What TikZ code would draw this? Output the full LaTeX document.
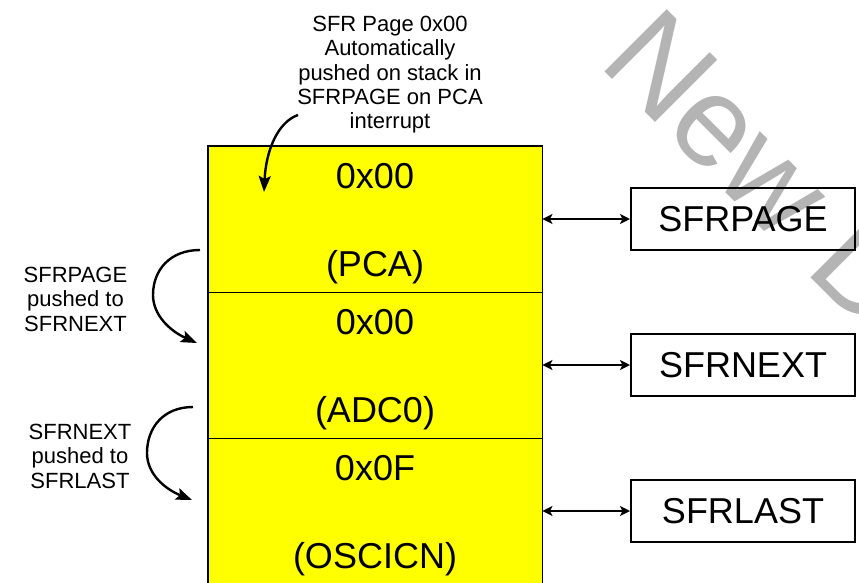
\documentclass[tikz,border=0pt]{standalone}
\usepackage{fontspec}
\setmainfont{Liberation Sans}
\usetikzlibrary{arrows.meta}
\definecolor{cellyellow}{RGB}{255,255,0}
\definecolor{wmgray}{RGB}{180,180,180}
\begin{document}
\begin{tikzpicture}[x=1pt,y=-1pt,
  cell/.style={draw=black,line width=0.9pt,fill=cellyellow,minimum width=334pt,minimum height=146pt,inner sep=0pt},
  big/.style={font=\fontsize{36}{40}\selectfont,inner sep=0pt,anchor=base},
  small/.style={font=\fontsize{22}{24.3}\selectfont,align=center,inner sep=0pt,anchor=north},
  regbox/.style={draw=black,line width=2pt,minimum width=224pt,minimum height=62pt,inner sep=0pt,font=\fontsize{36}{40}\selectfont},
  link/.style={line width=1.8pt,{Stealth[length=10pt,width=10pt,inset=2.5pt]}-{Stealth[length=10pt,width=10pt,inset=2.5pt]}},
  push/.style={line width=2.4pt,-{Stealth[length=16pt,width=12pt,inset=3pt]}},
  wm/.style={anchor=base west,inner sep=0pt,rotate=-45,text=wmgray,font=\fontsize{128}{130}\selectfont}
]
\useasboundingbox (0,0) rectangle (859,582);
\clip (0,0) rectangle (859,582);

% watermark
\node[wm] (wm) at (597,64) {New D};

% stack cells
\node[cell] (cell1) at (375,219) {};
\node[cell] (cell2) at (375,365) {};
\node[cell] (cell3) at (375,511) {};
\draw[line width=1.6pt] (cell1.north west) rectangle (cell3.south east);

\node[big] (v1) at (375,188) {0x00};
\node[big] (n1) at (375,276) {(PCA)};
\node[big] (v2) at (375,334) {0x00};
\node[big] (n2) at (375,422) {(ADC0)};
\node[big] (v3) at (375,480) {0x0F};
\node[big] (n3) at (375,568) {(OSCICN)};

% registers
\node[regbox] (sfrpage) at (743,219) {SFRPAGE};
\node[regbox] (sfrnext) at (743,365) {SFRNEXT};
\node[regbox] (sfrlast) at (743,511) {SFRLAST};

\draw[link] (cell1.east) -- (sfrpage.west);
\draw[link] (cell2.east) -- (sfrnext.west);
\draw[link] (cell3.east) -- (sfrlast.west);

% labels
\node[small] (toplbl) at (390,16) {SFR Page 0x00\\Automatically\\pushed on stack in\\SFRPAGE on PCA\\interrupt};
\node[small] (lbl1) at (75.5,267) {SFRPAGE\\pushed to\\SFRNEXT};
\node[small] (lbl2) at (80,424) {SFRNEXT\\pushed to\\SFRLAST};

% push arrows
\coordinate (t0) at (298,115);
\coordinate (t1) at (264,192);
\draw[push] (t0) .. controls (278,122) and (266,150) .. (t1);

\coordinate (a0) at (200,250);
\coordinate (am) at (153,295);
\coordinate (a1) at (197,343);
\draw[push] (a0) .. controls (170,250) and (153,270) .. (am)
  .. controls (153,315) and (170,331) .. (a1);

\coordinate (b0) at (193,407);
\coordinate (bm) at (147,453);
\coordinate (b1) at (192,500);
\draw[push] (b0) .. controls (163,407) and (147,428) .. (bm)
  .. controls (147,474) and (165,489) .. (b1);
\end{tikzpicture}
\end{document}
